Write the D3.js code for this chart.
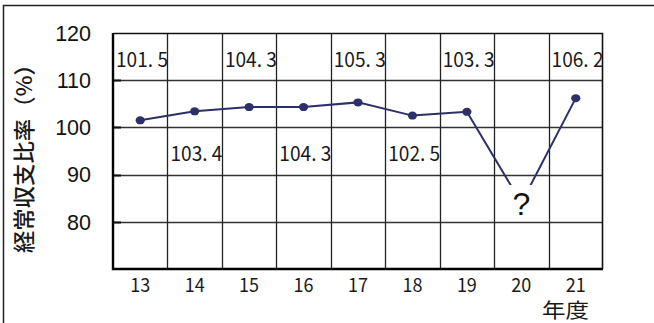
<!DOCTYPE html>
<html>
<head>
<meta charset="utf-8">
<script src="https://cdn.jsdelivr.net/npm/d3@7"></script>
<style>
  body { margin: 0; background: #fff; }
  svg { display: block; }
  .tick-y { font-family: "Liberation Sans", Arial, sans-serif; font-size: 21.5px; fill: #111; }
  .narrow { font-family: "Noto Sans CJK JP", sans-serif; fill: #1a1a1a; }
</style>
</head>
<body>
<div id="vis"></div>
<script>
// chart data
var years = ['13', '14', '15', '16', '17', '18', '19', '20', '21'];
var ratio = [101.5, 103.4, 104.3, 104.3, 105.3, 102.5, 103.3, null, 106.2];
var hidden20 = 84;          // value the line heads to behind the "?"
var yTicks = [80, 90, 100, 110, 120];
var labelRow = ['top', 'bottom', 'top', 'bottom', 'top', 'bottom', 'top', null, 'top'];

var width = 654, height = 323;
var margin = {top: 33, right: 51, bottom: 54, left: 113},
    drawWidth = width - margin.left - margin.right,
    drawHeight = height - margin.top - margin.bottom;

var svg = d3.select('#vis').append('svg')
    .attr('width', width)
    .attr('height', height);

// outer frame
svg.append('rect')
    .attr('x', 3.5).attr('y', 5.5)
    .attr('width', width + 10).attr('height', height + 10)
    .attr('fill', 'none')
    .attr('stroke', '#222')
    .attr('stroke-width', 1.5);

var g = svg.append('g')
    .attr('transform', 'translate(' + margin.left + ',' + margin.top + ')');

var xScale = d3.scaleBand().domain(years).range([0, drawWidth]).padding(0);
var yScale = d3.scaleLinear().domain([70, 120]).range([drawHeight, 0]);
var bw = xScale.bandwidth();
var px = v => Math.round(v) + 0.5;

// grid
g.selectAll('.hgrid')
    .data(yTicks.slice(0, 4))
    .enter().append('line')
    .attr('x1', 0).attr('x2', drawWidth)
    .attr('y1', d => px(yScale(d))).attr('y2', d => px(yScale(d)))
    .attr('stroke', '#333').attr('stroke-width', 1.3);

g.selectAll('.vgrid')
    .data(years.slice(1))
    .enter().append('line')
    .attr('x1', d => px(xScale(d))).attr('x2', d => px(xScale(d)))
    .attr('y1', 0).attr('y2', drawHeight)
    .attr('stroke', '#222').attr('stroke-width', 1.3);

// small ticks on the y axis
g.selectAll('.ytick')
    .data(yTicks.slice(0, 4))
    .enter().append('line')
    .attr('x1', 0).attr('x2', 8)
    .attr('y1', d => px(yScale(d))).attr('y2', d => px(yScale(d)))
    .attr('stroke', '#111').attr('stroke-width', 2);

// plot border
g.append('path')
    .attr('d', 'M0,0.5H' + (drawWidth - 0.5) + 'V' + drawHeight)
    .attr('fill', 'none').attr('stroke', '#111').attr('stroke-width', 1.6);
g.append('path')
    .attr('d', 'M0,0V' + drawHeight + 'H' + drawWidth)
    .attr('fill', 'none').attr('stroke', '#000').attr('stroke-width', 2.4);

// y tick labels
svg.selectAll('.tick-y')
    .data(yTicks)
    .enter().append('text')
    .attr('class', 'tick-y')
    .attr('x', 91)
    .attr('y', d => margin.top + yScale(d))
    .attr('dy', '0.36em')
    .attr('text-anchor', 'end')
    .text(d => d);

// x tick labels
svg.selectAll('.tick-x')
    .data(years)
    .enter().append('text')
    .attr('class', 'narrow')
    .attr('x', d => margin.left + xScale(d) + bw / 2)
    .attr('y', margin.top + drawHeight + 23)
    .attr('text-anchor', 'middle')
    .attr('font-size', 19)
    .attr('textLength', 20)
    .attr('lengthAdjust', 'spacingAndGlyphs')
    .text(d => d);

svg.append('text')
    .attr('class', 'narrow')
    .attr('x', 542)
    .attr('y', 318)
    .attr('font-size', 20)
    .attr('textLength', 47)
    .attr('lengthAdjust', 'spacingAndGlyphs')
    .text('年度');

// y axis title
svg.append('text')
    .attr('class', 'narrow')
    .attr('transform', 'translate(32,' + (margin.top + drawHeight / 2 + 2) + ') rotate(-90)')
    .attr('text-anchor', 'middle')
    .attr('font-size', 22)
    .attr('font-weight', 500)
    .attr('textLength', 200)
    .attr('lengthAdjust', 'spacingAndGlyphs')
    .attr('fill', '#111')
    .text('経常収支比率（%）');

// line
var lineData = years.map(function(y, i) {
    return {year: y, value: ratio[i] == null ? hidden20 : ratio[i]};
});

svg.append('clipPath').attr('id', 'lineClip')
    .append('rect')
    .attr('x', -10).attr('y', -10)
    .attr('width', drawWidth + 20)
    .attr('height', yScale(87.8) + 10);

var line = d3.line()
    .x(d => xScale(d.year) + bw / 2)
    .y(d => yScale(d.value));

g.append('path')
    .datum(lineData)
    .attr('clip-path', 'url(#lineClip)')
    .attr('d', line)
    .attr('fill', 'none')
    .attr('stroke', '#2d2f69')
    .attr('stroke-width', 2);

g.selectAll('.dot')
    .data(lineData.filter((d, i) => ratio[i] != null))
    .enter().append('ellipse')
    .attr('cx', d => xScale(d.year) + bw / 2)
    .attr('cy', d => yScale(d.value))
    .attr('rx', 4.6).attr('ry', 4)
    .attr('fill', '#2d2f69');

// question mark
g.append('text')
    .attr('x', xScale('20') + bw / 2)
    .attr('y', yScale(hidden20) + 12)
    .attr('text-anchor', 'middle')
    .attr('font-family', '"Liberation Sans", Arial, sans-serif')
    .attr('font-size', 32)
    .attr('fill', '#111')
    .text('?');

// value labels
g.selectAll('.val')
    .data(years.filter((d, i) => ratio[i] != null))
    .enter().append('text')
    .attr('class', 'narrow')
    .attr('x', d => xScale(d) + 3)
    .attr('y', function(d) {
        var i = years.indexOf(d);
        return labelRow[i] == 'top' ? yScale(114.5) + 8 : yScale(94.5) + 8;
    })
    .attr('font-size', 20)
    .attr('textLength', 52)
    .attr('lengthAdjust', 'spacingAndGlyphs')
    .text(function(d) {
        var v = ratio[years.indexOf(d)].toFixed(1).split('.');
        return v[0] + '. ' + v[1];
    });
</script>
</body>
</html>
